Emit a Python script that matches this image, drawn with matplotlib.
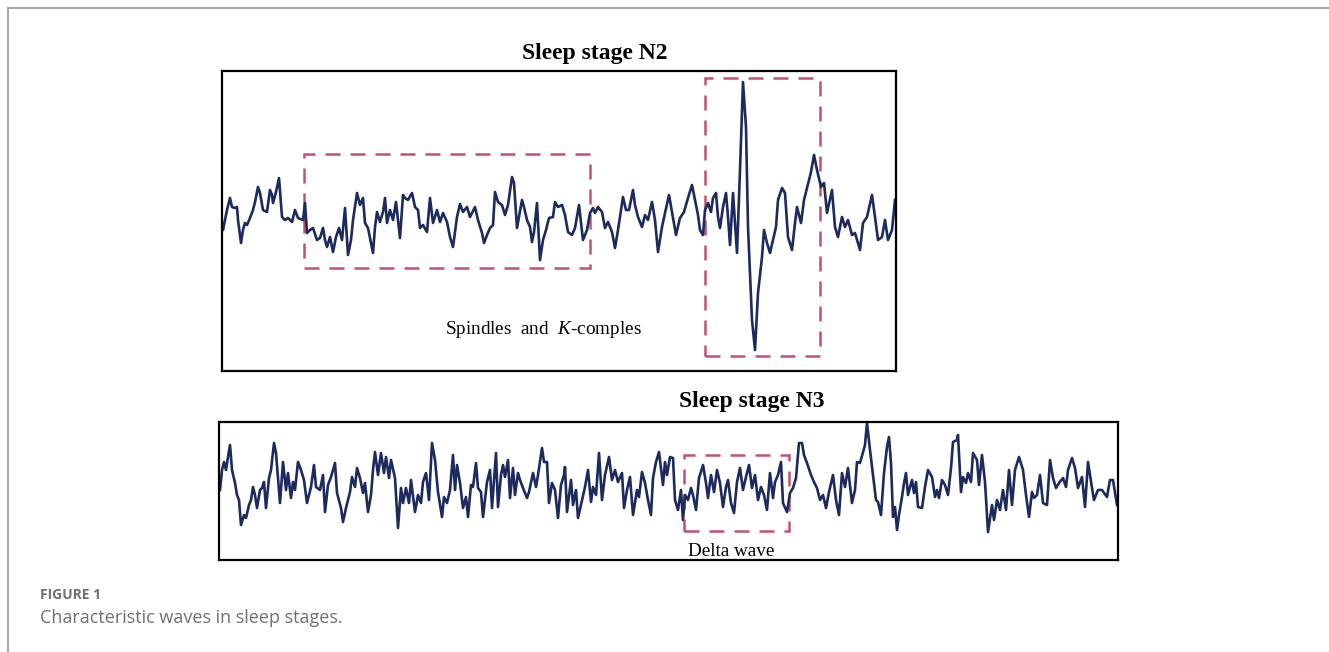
import matplotlib
matplotlib.use("Agg")
import matplotlib.pyplot as plt
from matplotlib.patches import Rectangle
from matplotlib.lines import Line2D

plt.rcParams['mathtext.fontset'] = 'custom'
plt.rcParams['mathtext.rm'] = 'Liberation Serif'
plt.rcParams['mathtext.it'] = 'Liberation Serif:italic'

# ---- Data (time samples, amplitude) ----
n2_time = [0, 1, 5, 8, 10, 13, 15, 16, 19, 21, 23, 25, 28, 31, 33, 36, 38, 41, 45, 48, 50, 51, 54, 57,
           60, 63, 66, 70, 73, 76, 81, 83, 85, 88, 91, 95, 98, 101, 103, 105, 108, 111, 114, 117, 120,
           123, 126, 129, 131, 135, 138, 141, 143, 146, 151, 153, 155, 158, 161, 163, 165, 168, 171,
           174, 176, 178, 181, 183, 186, 190, 193, 196, 198, 201, 205, 208, 211, 215, 218, 221, 225,
           228, 231, 235, 238, 241, 245, 248, 253, 256, 260, 262, 265, 268, 271, 273, 276, 280, 283,
           286, 290, 292, 295, 297, 300, 302, 305, 308, 310, 312, 315, 318, 321, 324, 327, 331, 333,
           336, 340, 343, 346, 350, 353, 357, 361, 365, 368, 371, 373, 376, 380, 383, 386, 390, 393,
           396, 401, 404, 407, 411, 413, 416, 420, 423, 426, 430, 433, 436, 440, 443, 447, 451, 454,
           458, 462, 466, 470, 473, 476, 478, 481, 483, 486, 489, 491, 494, 496, 498, 501, 504, 506,
           508, 511, 515, 518, 521, 524, 526, 530, 533, 536, 540, 542, 545, 548, 551, 554, 556, 560,
           563, 566, 570, 573, 575, 579, 582, 585, 589, 592, 595, 599, 602, 605, 610, 613, 616, 620,
           623, 626, 630, 633, 638, 641, 645, 650, 653, 656, 660, 663, 666, 670, 673]
n2_amp = [-10, -15, 5, 17, 8, 7, 8, -5, -28, -15, -8, -10, -3, 5, 13, 28, 22, 5, 3, 25, 20, 12, 23, 37,
          -2, -5, -3, -7, 5, -3, -5, 12, -18, -15, -13, -25, -23, -13, -25, -32, -22, -37, -22, -13, -25,
          7, -40, -25, -5, 22, 10, 17, -8, -13, -38, -12, 3, -7, 3, 17, -8, 5, -5,
          13, -5, -23, 20, 17, 15, 22, 8, 5, -13, -10, -17, 17, -8, 5, -7, 2, -7,
          -22, -32, -2, 11, 3, 8, -2, 8, -5, -18, -28, -20, -13, -10, 23, 13, 10, 0,
          10, 38, 32, -13, -2, 15, 8, -5, -12, -27, -17, 12, -45, -25, -15, -3, -2, 13,
          8, 10, 0, -17, -20, -13, 10, -25, -15, 2, 7, 2, 8, 3, -13, -7, -17, -33,
          -15, 18, 5, 5, 25, 10, -2, -12, 0, -5, 13, -5, -37, -12, 2, 20, -3, -20,
          -3, 3, 17, 30, 15, 0, -15, -20, 5, 12, 3, 17, 22, -2, -13, 8, 22, -2,
          -30, 22, -38, 45, 133, 88, -12, -105, -135, -78, -42, -15, -28, -38, -25, -12, 15, 27,
          22, -22, -35, -8, 8, -8, 15, 27, 43, 60, 45, 28, 32, 2, 25, -12, -22, -2,
          -12, -5, -20, -18, -35, -8, -2, 20, -2, -25, -22, -5, -25, -15, 15]

n3_time = [1, 3, 5, 7, 9, 11, 13, 16, 18, 20, 22, 25, 27, 30, 32, 34, 36, 38, 41, 43, 45, 47, 50, 52,
           55, 57, 61, 64, 67, 69, 72, 74, 76, 79, 82, 85, 88, 92, 95, 97, 101, 104, 106, 109, 112,
           116, 118, 122, 124, 127, 131, 133, 136, 138, 141, 144, 146, 149, 152, 154, 156, 159, 162,
           165, 167, 170, 172, 176, 179, 182, 184, 187, 190, 192, 196, 199, 202, 204, 207, 210, 213,
           216, 219, 223, 225, 228, 231, 234, 236, 238, 241, 244, 247, 249, 252, 254, 257, 259, 262,
           264, 268, 271, 273, 277, 279, 282, 284, 286, 289, 291, 294, 296, 299, 301, 304, 308, 310,
           314, 317, 319, 323, 325, 328, 330, 333, 336, 339, 342, 345, 346, 348, 352, 354, 357, 359,
           363, 366, 369, 372, 374, 377, 380, 383, 386, 390, 393, 396, 399, 403, 405, 408, 411, 414,
           418, 420, 423, 426, 429, 432, 434, 437, 440, 444, 446, 448, 451, 454, 456, 459, 462, 464,
           466, 469, 472, 474, 477, 480, 484, 487, 489, 492, 495, 498, 501, 504, 507, 509, 512, 515,
           518, 521, 524, 527, 530, 533, 536, 539, 542, 545, 548, 551, 554, 556, 559, 562, 564, 568,
           571, 574, 577, 580, 583, 585, 588, 592, 595, 598, 601, 604, 607, 610, 614, 617, 620, 623,
           626, 629, 633, 636, 638, 641, 644, 646, 648, 651, 654, 657, 659, 662, 665, 668, 670, 672,
           674, 676, 678, 680, 683, 685, 687, 689, 693, 695, 697, 699, 703, 706, 709, 713, 716, 718,
           720, 723, 726, 729, 732, 734, 738, 739, 742, 744, 747, 749, 752, 754, 758, 760, 763, 766,
           769, 773, 775, 778, 781, 784, 787, 790, 793, 796, 800, 804, 807, 810, 813, 815, 818, 821,
           824, 828, 831, 834, 837, 840, 844, 847, 849, 853, 856, 859, 863, 866, 869, 873, 875, 879,
           883, 888, 891, 894, 898]
n3_amp = [0, 20, 28, 20, 33, 45, 20, 7, -5, -10, -35, -25, -28, -15, -10, 3, -5, -18, 0, 2, 8, -18, 12, 20,
          47, 37, -13, 28, 0, 17, -8, 8, 0, 28, 20, 10, -13, 3, 25, 3, 0, 15, -22, 5, 13,
          27, -3, -18, -32, -18, -2, 13, 3, 22, 12, -3, 7, -22, -5, 20, 38, 15, 37,
          17, 33, 12, 30, 12, -38, 2, -13, 2, -13, 10, -22, -5, -13, 8, 17, -10, 47,
          30, -2, -27, -7, -13, 0, 35, 0, 25, 7, -18, -7, -27, 5, 3, 27, 2, -2,
          -27, 8, 20, -18, 37, -17, 15, 25, 13, 30, -8, 22, -5, 17, 10, 2, -8, -2,
          17, 3, 15, 42, 28, 28, -13, 7, 0, -28, 5, 15, 23, -22, 10, -15, 0, -28,
          -10, 3, 20, -12, 3, -5, 37, -10, 15, 33, 10, 20, 8, 17, -18, 0, 13, -25,
          0, -7, 18, 7, -10, -25, 12, 28, 38, 5, 28, 15, 33, 32, -10, -20, 0, -30,
          -5, -10, 2, -5, -20, 12, 25, 7, -8, 15, -2, 20, 7, -17, 3, 10, -13, -23,
          8, 22, 0, 13, 25, 2, 15, -10, 3, -5, -20, 17, -8, 8, 15, 28, -13, -22,
          -3, 2, 12, 47, 47, 35, 27, 15, 8, 2, -10, -5, -18, -2, 15, -10, -25, 17,
          3, 22, -13, 0, 28, 27, 38, 45, 67, 40, 15, -10, -12, -25, 17, 43, 53, 27,
          -27, -17, -40, -25, -7, 7, 17, -5, 10, -3, 8, -17, -18, 3, 20, 13, -7, 0,
          -8, 10, 5, -5, 22, 48, 50, 55, -2, 13, 7, 17, 8, 37, 30, 5, 35, 8,
          -42, -15, -30, -10, -20, 0, -20, 20, -15, 20, 33, 20, -5, -27, -2, -8, -5, 15,
          -13, -15, 30, 12, 2, 7, 12, 3, 20, 32, 22, 2, 13, -17, 28, 2, -10, 0,
          0, -7, 10, 10, -15]

# highlighted regions: (t_start, t_end, amp_low, amp_high)
n2_boxes = [(82, 368, -53, 61), (483, 598, -141, 137)]
n3_boxes = [(465, 570, -41, 35)]

n2_title = "Sleep stage N2"
n3_title = "Sleep stage N3"
n2_label = r"Spindles  and  $\mathit{K}$-comples"
n3_label = "Delta wave"
caption_head = "FIGURE 1"
caption_text = "Characteristic waves in sleep stages."

W, H = 1329, 652
fig = plt.figure(figsize=(W / 100, H / 100), dpi=100)
fig.patch.set_facecolor('white')

line_color = '#1c2a5e'
box_color = '#c4506f'
serif = 'Liberation Serif'

def px_rect(l, t, r, b):
    return [l / W, 1 - b / H, (r - l) / W, (b - t) / H]

ax1 = fig.add_axes(px_rect(222, 71, 896, 371))
ax2 = fig.add_axes(px_rect(219, 422, 1118, 560))

for ax in (ax1, ax2):
    ax.set_xticks([])
    ax.set_yticks([])
    for s in ax.spines.values():
        s.set_linewidth(1.6)
        s.set_color('black')

ax1.plot(n2_time, n2_amp, color=line_color, lw=1.9, solid_joinstyle='round')
ax1.set_xlim(0, 674)
ax1.set_ylim(-156, 144)
for (x0, x1, y0, y1) in n2_boxes:
    ax1.add_patch(Rectangle((x0, y0), x1 - x0, y1 - y0, fill=False, edgecolor=box_color,
                            lw=1.8, ls=(0, (6, 4))))
ax1.text(321, -114, n2_label, ha='center', va='center', fontsize=13.8, family=serif)

ax2.plot(n3_time, n3_amp, color=line_color, lw=1.9, solid_joinstyle='round')
ax2.set_xlim(0, 899)
ax2.set_ylim(-70, 68)
for (x0, x1, y0, y1) in n3_boxes:
    ax2.add_patch(Rectangle((x0, y0), x1 - x0, y1 - y0, fill=False, edgecolor=box_color,
                            lw=1.8, ls=(0, (6, 4))))
ax2.text(512, -61, n3_label, ha='center', va='center', fontsize=13.8, family=serif)

fig.text(595 / W, 1 - 53 / H, n2_title, ha='center', va='center', fontsize=17,
         fontweight='bold', family=serif)
fig.text(752 / W, 1 - 402 / H, n3_title, ha='center', va='center', fontsize=17,
         fontweight='bold', family=serif)

fig.text(40 / W, 1 - 595 / H, caption_head, ha='left', va='center', fontsize=10,
         color='#707070', family='Open Sans', fontweight='bold')
fig.text(40 / W, 1 - 618 / H, caption_text, ha='left', va='center', fontsize=13,
         color='#707070', family='Open Sans')

# card frame lines
fig.add_artist(Line2D([8 / W, 1], [1 - 8 / H, 1 - 8 / H], color='#9a9a9a', lw=1.2))
fig.add_artist(Line2D([8 / W, 8 / W], [1 - 8 / H, 0], color='#9a9a9a', lw=1.2))

fig.savefig('out.png', dpi=100, facecolor='white')
